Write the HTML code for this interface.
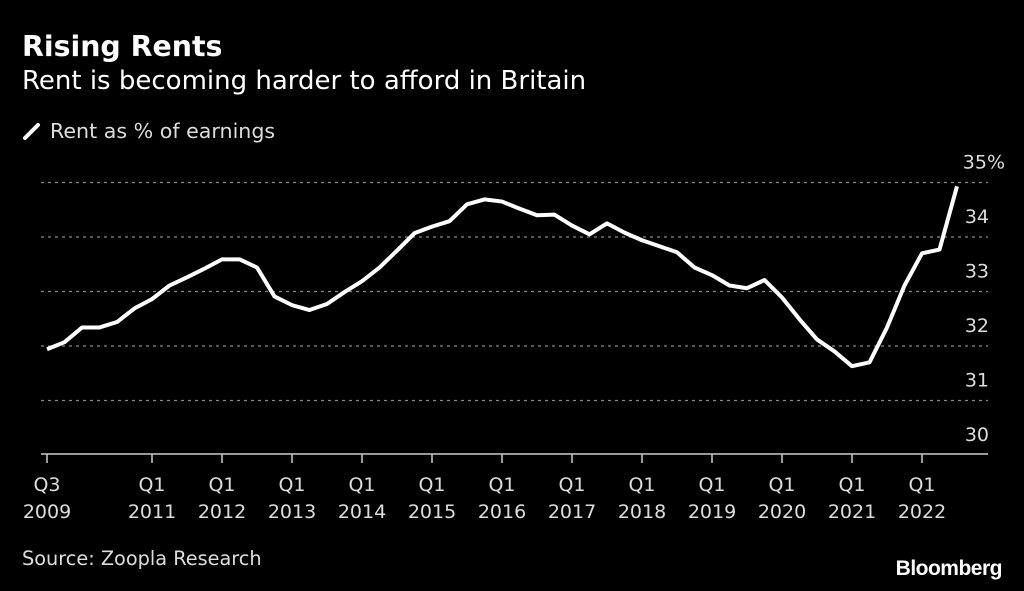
<!DOCTYPE html>
<html><head><meta charset="utf-8"><style>
body{margin:0;background:#000;width:1024px;height:591px;overflow:hidden;font-family:"DejaVu Sans","Liberation Sans",sans-serif;color:#fff}
.t{position:absolute;white-space:nowrap}
</style></head><body>
<div class="t" style="left:22px;top:30px;font-size:28.4px;font-weight:bold">Rising Rents</div>
<div class="t" style="left:22px;top:66px;font-size:26px">Rent is becoming harder to afford in Britain</div>
<div class="t" style="left:22px;top:119px;font-size:20.6px;color:#ddd"><svg width="20" height="20" style="vertical-align:-3px;margin-right:8px"><line x1="3" y1="17" x2="16" y2="4" stroke="#fff" stroke-width="4" stroke-linecap="round"/></svg>Rent as % of earnings</div>
<div class="t" style="left:22px;top:547px;font-size:19.3px;color:#ddd">Source: Zoopla Research</div>
<div class="t" style="right:22px;top:557px;font-size:21px;font-weight:bold;font-family:'Liberation Sans',sans-serif;letter-spacing:-0.5px">Bloomberg</div>
<svg id="c" width="1024" height="591" style="position:absolute;left:0;top:0"></svg>
<script>
const values=[31.94,32.07,32.34,32.34,32.44,32.69,32.86,33.11,33.26,33.42,33.59,33.59,33.44,32.91,32.75,32.66,32.77,32.99,33.19,33.44,33.75,34.07,34.19,34.29,34.60,34.69,34.65,34.52,34.40,34.41,34.21,34.05,34.25,34.08,33.94,33.83,33.72,33.44,33.30,33.11,33.06,33.21,32.89,32.49,32.12,31.90,31.63,31.70,32.34,33.11,33.70,33.77,34.93];
const yTicks=[30,31,32,33,34,35];
const yLabels=["30","31","32","33","34","35%"];
const xTickIdx=[0,6,10,14,18,22,26,30,34,38,42,46,50];
const xTop=["Q3","Q1","Q1","Q1","Q1","Q1","Q1","Q1","Q1","Q1","Q1","Q1","Q1"];
const xBot=["2009","2011","2012","2013","2014","2015","2016","2017","2018","2019","2020","2021","2022"];
const svg=document.getElementById('c');const NS='http://www.w3.org/2000/svg';
const x=i=>47+i*17.5, y=v=>455-(v-30)*54.5;
function mk(t,a){const e=document.createElementNS(NS,t);for(const k in a)e.setAttribute(k,a[k]);svg.appendChild(e);return e;}
yTicks.forEach((v,i)=>{
 if(v>30){const g=mk('line',{x1:41,x2:988,y1:y(v),y2:y(v),stroke:'#888','stroke-width':1.3,'stroke-dasharray':'3,4'});
 
 }
 const t=mk('text',{x:i==5?1005:989,y:y(v)-14,'text-anchor':'end',fill:'#ddd','font-size':19,'font-family':'DejaVu Sans,sans-serif'});
 t.textContent=yLabels[i];
 
 
});
const ax=mk('line',{x1:41,x2:988,y1:454,y2:454,stroke:'#ccc','stroke-width':1.5});


xTickIdx.forEach((q,i)=>{
 const tk=mk('line',{x1:x(q),x2:x(q),y1:454,y2:463,stroke:'#ccc','stroke-width':1.5});
 
 
 [xTop[i],xBot[i]].forEach((s,j)=>{const t=mk('text',{x:x(q),y:491+j*27,'text-anchor':'middle',fill:'#ddd','font-size':19,'font-family':'DejaVu Sans,sans-serif'});t.textContent=s;
 
 });
});
const p=mk('polyline',{points:values.map((v,i)=>x(i)+','+y(v)).join(' '),fill:'none',stroke:'#fff','stroke-width':4,'stroke-linejoin':'round'});


</script>
</body></html>
